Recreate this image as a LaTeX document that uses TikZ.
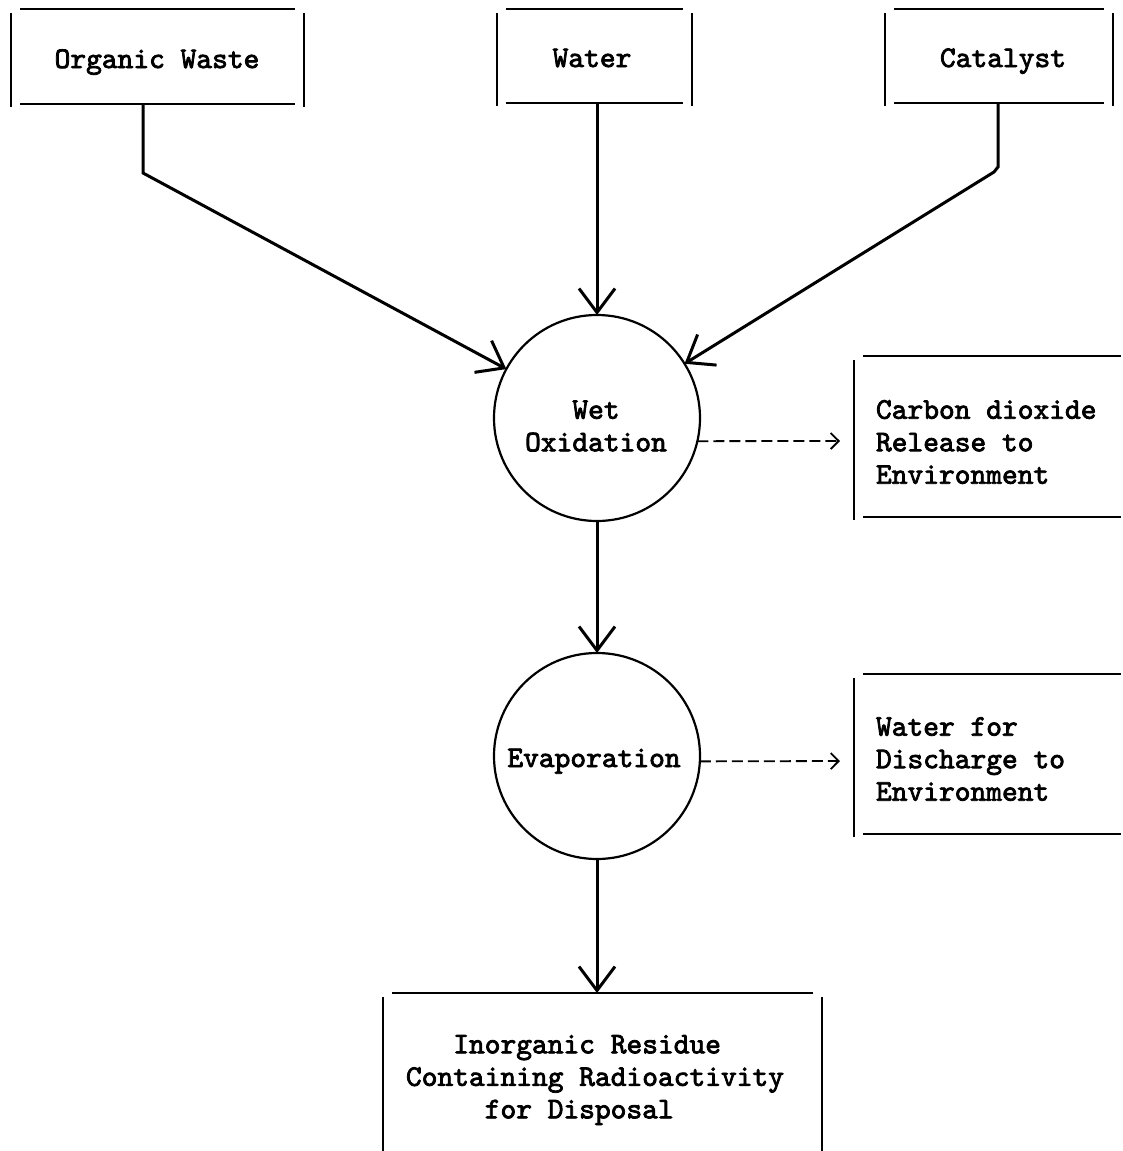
\documentclass[tikz,border=0pt]{standalone}
\usepackage{fontspec}
\newfontfamily\twfont{lmmono10-regular}[Extension=.otf, FakeBold=2.6]
\usetikzlibrary{arrows.meta}
\tikzset{
  lbl/.style={font=\twfont\fontsize{30}{32.5}\selectfont, inner sep=0pt, outer sep=0pt},
  framebox/.style={inner sep=0pt, outer sep=0pt, draw=none, rectangle},
  frameline/.style={line width=2.8pt, line cap=butt},
  proc/.style={circle, draw, line width=2.2pt, minimum size=206pt, inner sep=0pt, outer sep=0pt},
  conn/.style={line width=3pt, -{Straight Barb[length=24pt,width=36pt]}},
  dashconn/.style={line width=1.8pt, dash pattern=on 11pt off 5pt, -{Straight Barb[length=8pt,width=16pt]}},
}
\newcommand\fTop[1]{\draw[frameline] ([xshift=9pt]#1.north west) -- ([xshift=-9pt]#1.north east);}
\newcommand\fBot[1]{\draw[frameline] ([xshift=9pt]#1.south west) -- ([xshift=-9pt]#1.south east);}
\newcommand\fLeft[1]{\draw[frameline] ([yshift=-4pt]#1.north west) -- ([yshift=-3pt]#1.south west);}
\newcommand\fRight[1]{\draw[frameline] ([yshift=-4pt]#1.north east) -- ([yshift=-3pt]#1.south east);}
\begin{document}
\begin{tikzpicture}[x=1pt,y=-1pt]
\fill[white] (0,0) rectangle (1123,1151);
\useasboundingbox (0,0) rectangle (1123,1151);

% frames
\node[framebox, minimum width=293pt, minimum height=95pt] (ow) at (157.5,56.5) {};
\node[framebox, minimum width=195pt, minimum height=94pt] (wa) at (594.5,56) {};
\node[framebox, minimum width=228pt, minimum height=94pt] (ca) at (999,56) {};
\node[framebox, minimum width=276pt, minimum height=161pt] (co) at (992,436.5) {};
\node[framebox, minimum width=276pt, minimum height=160pt] (wd) at (992,754) {};
\node[framebox, minimum width=439pt, minimum height=158pt] (re) at (602.5,1072) {};

\fTop{ow}\fBot{ow}\fLeft{ow}\fRight{ow}
\fTop{wa}\fBot{wa}\fLeft{wa}\fRight{wa}
\fTop{ca}\fBot{ca}\fLeft{ca}\fRight{ca}
\fTop{co}\fBot{co}\fLeft{co}
\fTop{wd}\fBot{wd}\fLeft{wd}
\fTop{re}\fLeft{re}\fRight{re}

% processes
\node[proc] (wo) at (597,418) {};
\node[proc] (ev) at (597,756) {};

% texts
\node[lbl, anchor=base] (owt) at (157,68) {Organic Waste};
\node[lbl, anchor=base] (wat) at (592,67) {Water};
\node[lbl, anchor=base] (cat) at (1003,67) {Catalyst};
\node[lbl, align=center] (wot) at (596,426) {Wet\\Oxidation};
\node[lbl, anchor=base] (evt) at (594,767) {Evaporation};
\node[lbl, align=left, anchor=west] (cot) at (876,442) {Carbon dioxide\\Release to\\Environment};
\node[lbl, align=left, anchor=west] (wdt) at (876,759) {Water for\\Discharge to\\Environment};
\node[lbl, align=left, anchor=west] (ret) at (406,1080) {\phantom{III}Inorganic Residue\\Containing Radioactivity\\\phantom{IIIII}for Disposal};

% connectors
\coordinate (ow1) at (143,173);
\draw[conn] (ow.south -| ow1) -- (ow1) -- (wo);
\coordinate (ca1) at (998,167);
\coordinate (ca2) at (994,172);
\draw[conn] (ca.south -| ca1) -- (ca1) -- (ca2) -- (wo);
\draw[conn] (wa.south -| wo.north) -- (wo.north);
\draw[conn] (wo.south) -- (ev.north);
\draw[conn] (ev.south) -- (ev.south |- re.north);
\coordinate (coin) at (840,441);
\draw[dashconn] (wo.-13) -- (coin);
\coordinate (wdin) at (840,761);
\draw[dashconn] (ev.-3) -- (wdin);
\end{tikzpicture}
\end{document}
